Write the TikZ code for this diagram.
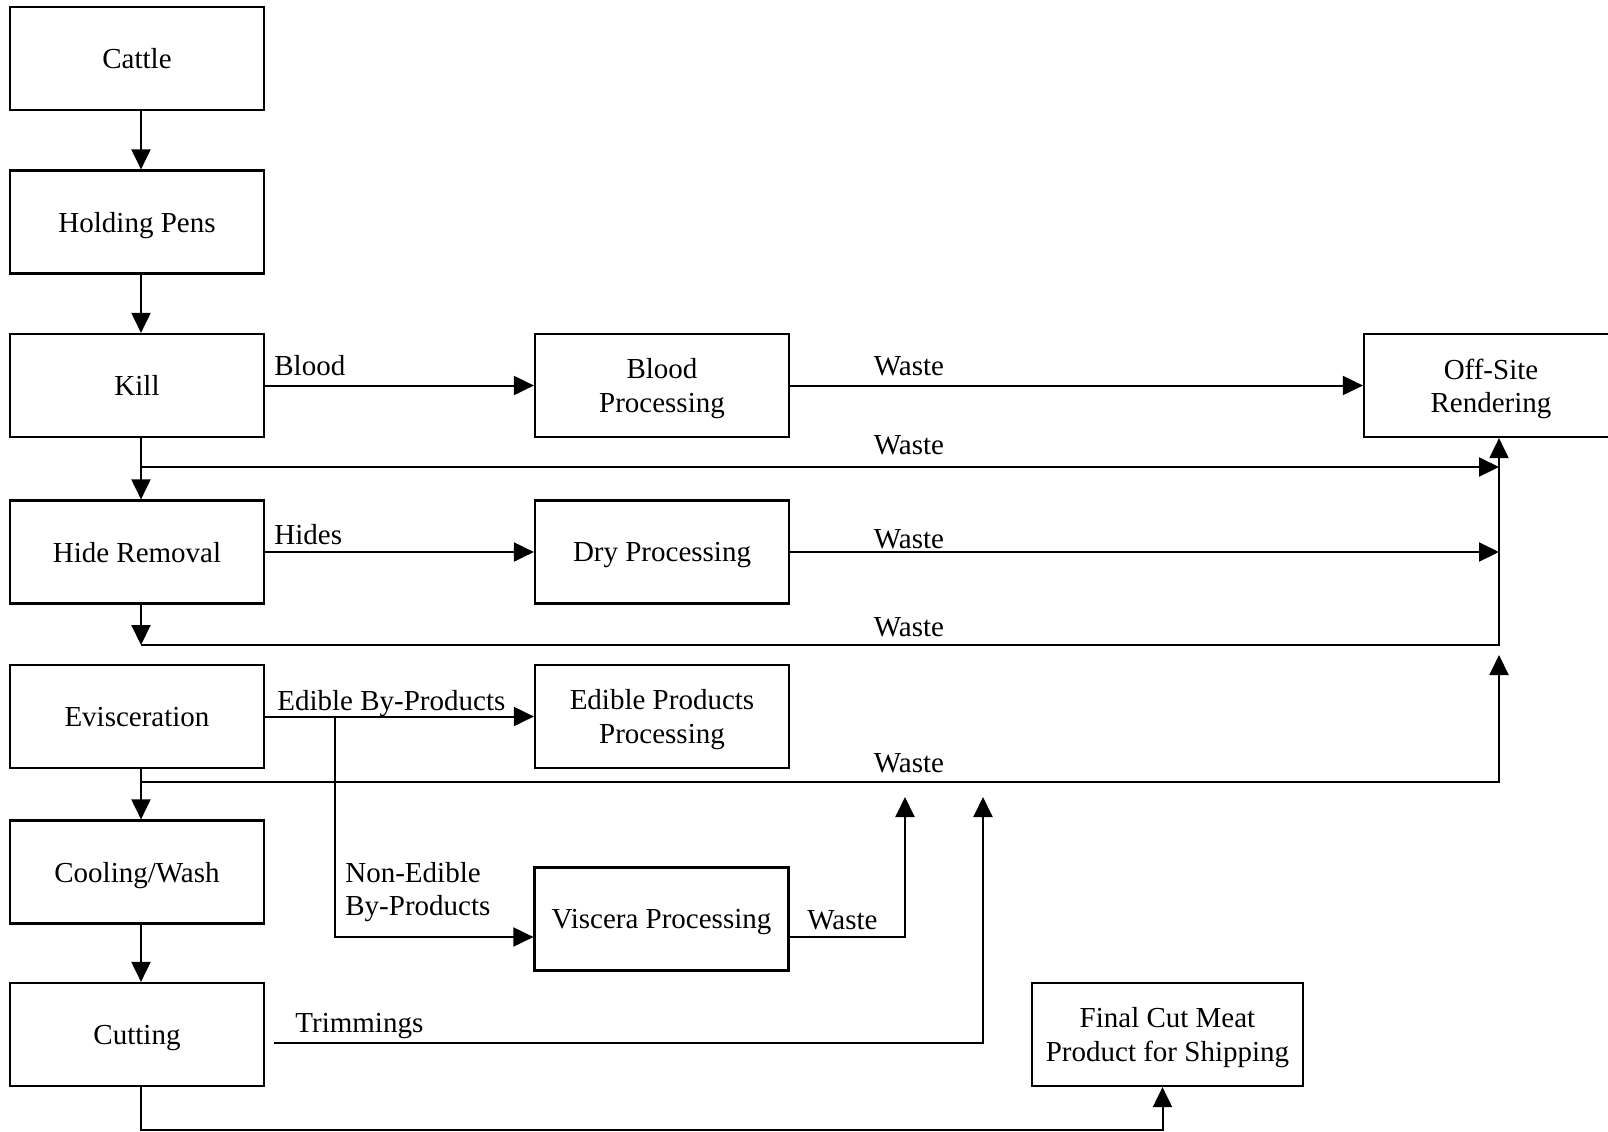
\documentclass[tikz,border=0pt]{standalone}
\usepackage{fontspec}
\setmainfont{Liberation Serif}
\usetikzlibrary{arrows.meta,calc}
\newcommand\diagfont{\fontsize{14.5}{16.6}\selectfont}
\tikzset{
  procbox/.style={draw, line width=1.1pt, minimum width=127pt, minimum height=51.5pt,
    inner sep=0pt, text depth=0pt, align=center, font=\diagfont},
  lbl/.style={inner sep=0pt, font=\diagfont},
  flow/.style={line width=1pt, -{Triangle[length=10pt,width=9.5pt]}},
}
\begin{document}
\begin{tikzpicture}[x=0.5pt,y=-0.5pt]
\useasboundingbox (0,0) rectangle (1608,1131);
\fill[white] (0,0) rectangle (1608,1131);
\clip (0,0) rectangle (1608,1131);

% main column
\node[procbox] (cattle) at (137,58.5) {Cattle};
\node[procbox] (pens)   at (137,222) {Holding Pens};
\node[procbox] (kill)   at (137,385.5) {Kill};
\node[procbox] (hide)   at (137,552) {Hide Removal};
\node[procbox] (evisc)  at (137,716.5) {Evisceration};
\node[procbox] (cool)   at (137,872) {Cooling/Wash};
\node[procbox] (cut)    at (137,1034.5) {Cutting};

% processing column
\node[procbox] (blood)   at (662,385.5) {Blood\\Processing};
\node[procbox] (dry)     at (662,552) {Dry Processing};
\node[procbox] (edible)  at (662,716.5) {Edible Products\\Processing};
\node[procbox] (viscera) at (661.5,919) {Viscera Processing};
\node[procbox] (offsite) at (1491,385.5) {Off-Site\\Rendering};
\node[procbox, minimum width=135.5pt] (final) at (1167.5,1034.5) {Final Cut Meat\\Product for Shipping};

% helper coordinates
\coordinate (sx) at (141,0);
\coordinate (rx) at (1499,0);
\coordinate (w1) at (141,467);
\coordinate (w2) at (141,645);
\coordinate (w3) at (141,782);
\coordinate (nb) at (335,937);
\coordinate (vw) at (905,797);
\coordinate (tw) at (983,797);
\coordinate (trim) at (274,1043);
\coordinate (fb) at (1162.5,1130);
\coordinate (lw) at (1499,655);

% main flow
\draw[flow] (cattle.south -| sx) -- (pens.north -| sx);
\draw[flow] (pens.south -| sx) -- (kill.north -| sx);
\draw[flow] (kill.south -| sx) -- (hide.north -| sx);
\draw[flow] (hide.south -| sx) -- (w2);
\draw[flow] (evisc.south -| sx) -- (cool.north -| sx);
\draw[flow] (cool.south -| sx) -- (cut.north -| sx);
\draw[flow] (cut.south -| sx) -- (sx |- fb) -- (fb) -- (fb |- final.south);

% side flows
\draw[flow] (kill.east) -- (blood.west);
\draw[flow] (blood.east) -- (offsite.west);
\draw[flow] (hide.east) -- (dry.west);
\draw[flow] (dry.east) -- (dry.east -| rx);
\draw[flow] (w1) -- (w1 -| rx);
\draw[flow] (w2) -- (w2 -| rx) -- (rx |- offsite.south);
\draw[flow] (w3) -- (w3 -| rx) -- (lw);
\draw[flow] (evisc.east) -- (edible.west);
\draw[flow] (evisc.east -| nb) -- (nb) -- (nb -| viscera.west);
\draw[flow] (viscera.east |- nb) -- (vw |- nb) -- (vw);
\draw[flow] (trim) -- (tw |- trim) -- (tw);

% labels
\node[lbl, anchor=base west] (lblood) at (274,375) {Blood};
\node[lbl, anchor=base west] (lhides) at (274,544.5) {Hides};
\node[lbl, anchor=base] (lw1) at (909,375) {Waste};
\node[lbl, anchor=base] (lw2) at (909,454) {Waste};
\node[lbl, anchor=base] (lw3) at (909,548) {Waste};
\node[lbl, anchor=base] (lw4) at (909,636) {Waste};
\node[lbl, anchor=base] (lw5) at (909,772) {Waste};
\node[lbl, anchor=base west] (ledible) at (277,710) {Edible By-Products};
\node[lbl, anchor=base west] (lnon1) at (345,882) {Non-Edible};
\node[lbl, anchor=base west] (lnon2) at (345,915) {By-Products};
\node[lbl, anchor=base west] (lvw) at (807,929.5) {Waste};
\node[lbl, anchor=base west] (ltrim) at (295,1032) {Trimmings};
\end{tikzpicture}
\end{document}
